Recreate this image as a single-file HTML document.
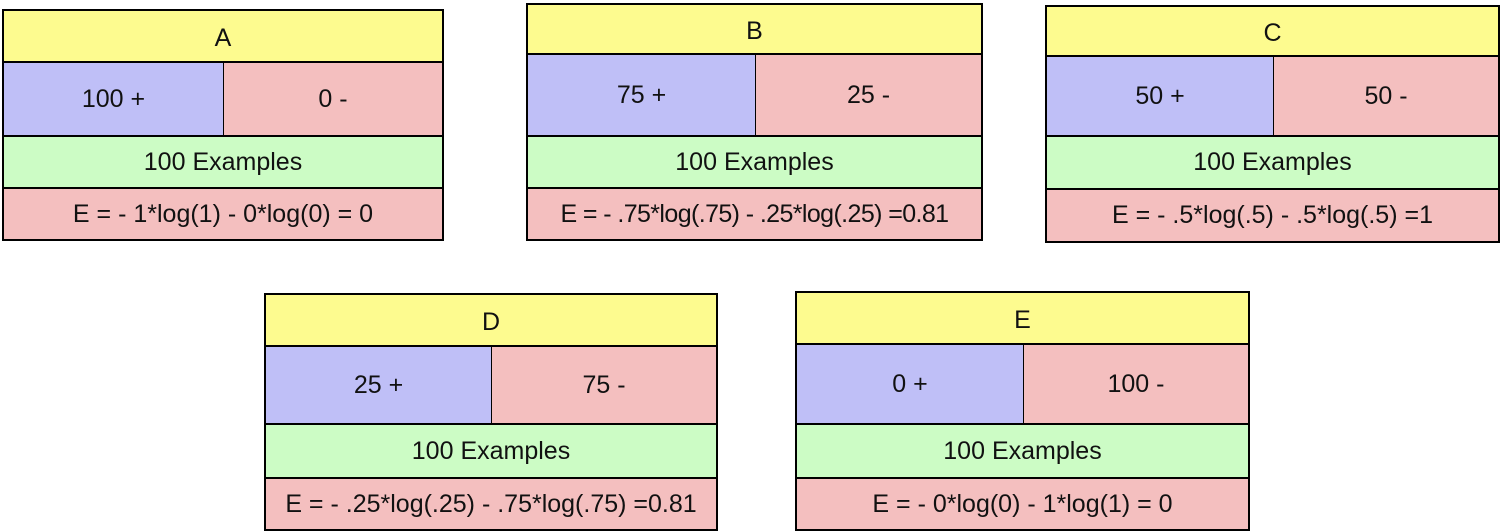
<!DOCTYPE html>
<html><head><meta charset="utf-8"><style>
body{margin:0;width:1500px;height:531px;background:#fff;position:relative;overflow:hidden;font-family:"Liberation Sans",sans-serif;}
.c{position:absolute;box-sizing:border-box;border:2px solid #000;display:flex;align-items:center;justify-content:center;font-size:25px;color:#111;white-space:nowrap;}
.f{font-size:25px}
.y{background:#fdfb8f}.b{background:#bfbff7}.p{background:#f4bfbf}.g{background:#ccfcc5}
</style></head><body>
<script>
const labels=["A","B","C","D","E"];
const pos=[100,75,50,25,0];
const neg=[0,25,50,75,100];
const formulas=["E = - 1*log(1) - 0*log(0) = 0","E = - .75*log(.75) - .25*log(.25) =0.81","E = - .5*log(.5) - .5*log(.5) =1","E = - .25*log(.25) - .75*log(.75) =0.81","E = - 0*log(0) - 1*log(1) = 0"];
const boxes=[
 {x:2,w:442,y:[9,61,135,187,240]},
 {x:526,w:457,y:[3,53,135,187,240]},
 {x:1045,w:455,y:[5,55,135,188,242]},
 {x:264,w:454,y:[293,345,423,477,530]},
 {x:795,w:455,y:[291,343,423,477,530]}
];
for(let i=0;i<5;i++){
 const b=boxes[i],total=pos[i]+neg[i];
 const add=(cls,x,y,w,h,t,name)=>{const d=document.createElement('div');d.className='c '+cls;d.style.left=x+'px';d.style.top=y+'px';d.style.width=w+'px';d.style.height=h+'px';d.textContent=t;
  
  
  document.body.appendChild(d);return d;};
 const lw=Math.round(b.w*0.5);
 const t=add('y',b.x,b.y[0],b.w,b.y[1]-b.y[0]+2,labels[i],'box-'+labels[i].toLowerCase()+'-title');
 t.style.paddingTop='4px';
 const l=add('b',b.x,b.y[1],lw+1,b.y[2]-b.y[1]+2,pos[i]+' +','box-'+labels[i].toLowerCase()+'-positive');
 l.style.borderRightWidth='1px';
 const r=add('p',b.x+lw,b.y[1],b.w-lw,b.y[2]-b.y[1]+2,neg[i]+' -','box-'+labels[i].toLowerCase()+'-negative');
 r.style.borderLeftWidth='1px';
 add('g',b.x,b.y[2],b.w,b.y[3]-b.y[2]+2,total+' Examples','box-'+labels[i].toLowerCase()+'-examples');
 const f=add('p f',b.x,b.y[3],b.w,b.y[4]-b.y[3]+1,formulas[i],'box-'+labels[i].toLowerCase()+'-formula');
 if(i===1)f.style.letterSpacing='-0.6px';
}
</script>
</body></html>
